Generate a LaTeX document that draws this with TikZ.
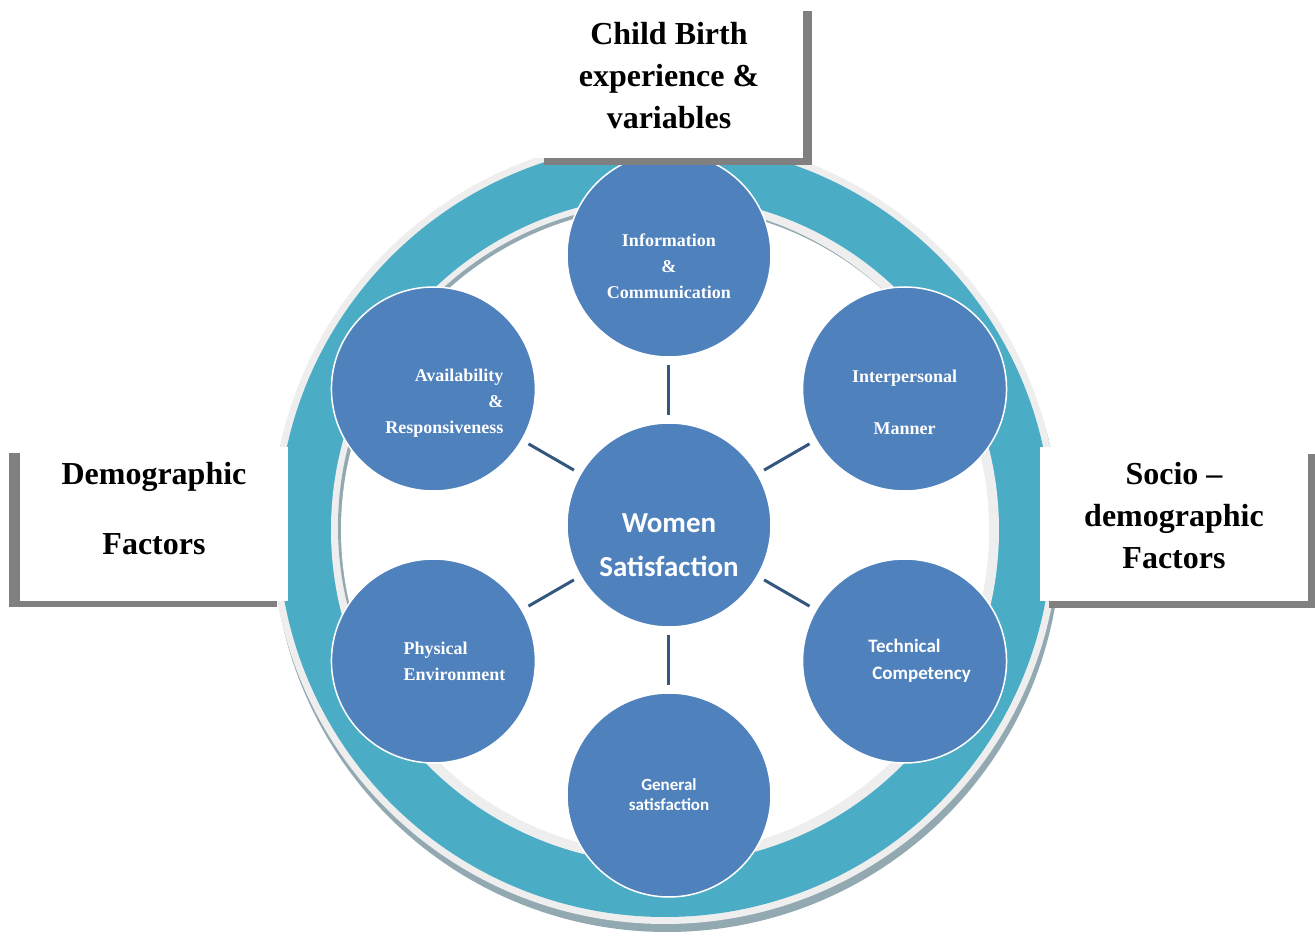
\documentclass[tikz,border=0pt]{standalone}
\usepackage{fontspec}
\setmainfont{Liberation Serif}
\newfontfamily\sansbody{Carlito}
\usepackage{xcolor}
\usetikzlibrary{shadows}

\definecolor{ringteal}{HTML}{4BACC6}
\definecolor{ringedge}{HTML}{EEEEEE}
\definecolor{ringshade}{HTML}{93A9B1}
\definecolor{bubbleblue}{HTML}{4F81BD}
\definecolor{linkblue}{HTML}{34577F}
\definecolor{boxshade}{HTML}{808080}

\tikzset{
    bubble/.style={circle, fill=bubbleblue, draw=white, line width=1.5pt,
        minimum size=204pt, inner sep=0pt},
    link/.style={draw=linkblue, line width=3pt, shorten >=7pt, shorten <=7pt},
    serifnote/.style={text=white, font=\fontsize{18}{26}\selectfont\bfseries},
    sansnote/.style={text=white, font=\fontsize{19}{27}\selectfont\sansbody\bfseries},
    factorbox/.style={fill=white, minimum width=268pt, minimum height=154pt,
        inner sep=0pt},
    factortext/.style={align=center, font=\fontsize{32}{42}\selectfont\bfseries},
    shade right/.style={general shadow={fill=boxshade, shadow xshift=9pt, shadow yshift=-7pt}},
    shade left/.style={general shadow={fill=boxshade, shadow xshift=-11pt, shadow yshift=-6pt}}
}

\begin{document}
\begin{tikzpicture}[x=1pt,y=1pt]
    \useasboundingbox (-669,-411) rectangle (646,525);
    \coordinate (R) at (-4,-5);
    % the ring, its shadow and its inner rim
    \fill[ringshade] ([shift={(2,-8)}]R) circle (394);
    \fill[ringedge] (R) circle (394);
    \fill[ringteal] (R) circle (387);
    \fill[ringedge] (R) circle (334);
    \fill[ringshade] ([shift={(-3,3)}]R) circle (324);
    \fill[white] (R) circle (324);
    % the six circles round the middle one
    \node[bubble] (ws) at (0,0) {};
    \node[bubble] (info) at (90:270) {};
    \node[bubble] (inter) at (30:272) {};
    \node[bubble] (tech) at (-30:272) {};
    \node[bubble] (gen) at (-90:270) {};
    \node[bubble] (phys) at (-150:272) {};
    \node[bubble] (avail) at (150:272) {};
    \draw[link] (ws) -- (info);
    \draw[link] (ws) -- (inter);
    \draw[link] (ws) -- (tech);
    \draw[link] (ws) -- (gen);
    \draw[link] (ws) -- (phys);
    \draw[link] (ws) -- (avail);
    % texts in the circles
    \node[text=white, align=center, font=\fontsize{29}{44}\selectfont\sansbody\bfseries]
        (wst) at ([yshift=-20]ws) {Women\\Satisfaction};
    \node[serifnote, align=center] (infot) at ([yshift=-11]info) {Information\\\&\\Communication};
    \node[serifnote, align=center] (intert) at ([yshift=-13]inter) {Interpersonal\\[26pt]Manner};
    \node[sansnote, align=left] (techt) at ([xshift=15]tech) {Technical\\\hspace*{4pt}Competency};
    \node[sansnote, align=center, font=\fontsize{17}{20}\selectfont\sansbody\bfseries]
        (gent) at (gen) {General\\satisfaction};
    \node[serifnote, align=left] (physt) at ([xshift=21]phys) {Physical\\Environment};
    \node[serifnote, align=right] (availt) at ([xshift=11,yshift=-14]avail) {Availability\\\&\\Responsiveness};
    % the three boxes of factors
    \node[factorbox, shade right] (birth) at (0,444) {};
    \node[factortext] (birtht) at ([yshift=5]birth) {Child Birth\\experience \&\\variables};
    \node[factorbox, shade left] (demo) at (-515,1) {};
    \node[factortext] (demot) at ([yshift=15]demo) {Demographic\\[28pt]Factors};
    \node[factorbox, shade right] (socio) at (505,1) {};
    \node[factortext] (sociot) at ([yshift=8]socio) {Socio \textendash\\demographic\\Factors};
\end{tikzpicture}
\end{document}
